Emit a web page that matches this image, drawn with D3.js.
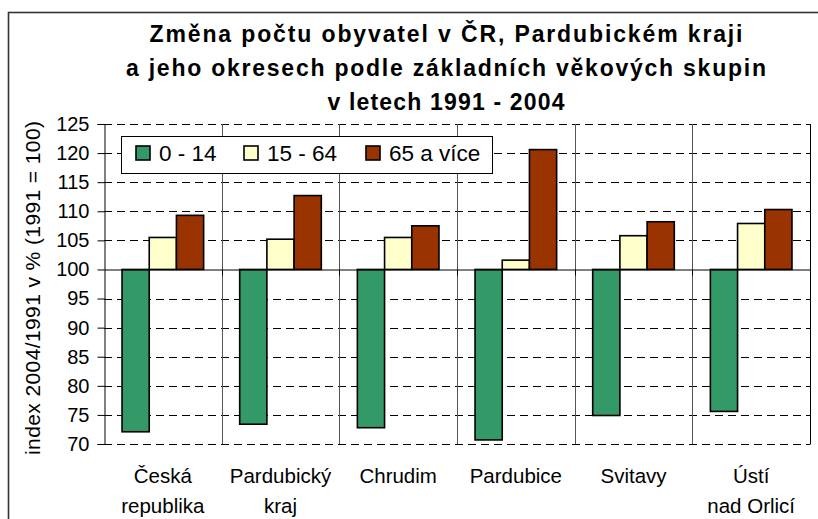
<!DOCTYPE html>
<html>
<head>
<meta charset="utf-8">
<script src="https://cdn.jsdelivr.net/npm/d3@7"></script>
<style>
  html, body { margin: 0; padding: 0; background: #fff; }
  svg { display: block; font-family: "Liberation Sans", Arial, sans-serif; }
</style>
</head>
<body>
<svg id="chart" width="818" height="519"></svg>
<script>
// ---- data ----
const titleLines = [
  "Změna počtu obyvatel v ČR, Pardubickém kraji",
  "a jeho okresech podle základních věkových skupin",
  "v letech 1991 - 2004"
];
const yAxisTitle = "index 2004/1991 v % (1991 = 100)";
const categories = ["Česká\nrepublika", "Pardubický\nkraj", "Chrudim", "Pardubice", "Svitavy", "Ústí\nnad Orlicí"];
const seriesNames = ["0 - 14", "15 - 64", "65 a více"];
const seriesColors = ["#339966", "#FFFFCC", "#993300"];
const values0_14  = [72.1, 73.4, 72.8, 70.7, 74.9, 75.6];
const values15_64 = [105.5, 105.2, 105.5, 101.6, 105.8, 107.9];
const values65    = [109.3, 112.7, 107.5, 120.6, 108.2, 110.3];
const yTicks = [70, 75, 80, 85, 90, 95, 100, 105, 110, 115, 120, 125];
const baseValue = 100;

const seriesValues = [values0_14, values15_64, values65];

// ---- layout ----
const svg = d3.select("#chart");
const W = 818, H = 519;
const plot = { left: 104, right: 810, top: 124, bottom: 444 };

// outer border
svg.append("rect")
  .attr("x", 8.5).attr("y", 12.5)
  .attr("width", W + 10).attr("height", H + 10)
  .attr("fill", "#fff").attr("stroke", "#333").attr("stroke-width", 1.6);

// title
const titleLengths = [593, 640, 237];
const titleBaselines = [42, 76, 110];
svg.append("g").selectAll("text").data(titleLines).join("text")
  .attr("x", 446).attr("y", (d, i) => titleBaselines[i])
  .attr("text-anchor", "middle")
  .attr("font-weight", "bold").attr("font-size", 23)
  .attr("textLength", (d, i) => titleLengths[i])
  .attr("lengthAdjust", "spacing")
  .attr("fill", "#000")
  .text(d => d);

// scales
const y = d3.scaleLinear().domain([70, 125]).range([plot.bottom, plot.top]);
const x0 = d3.scaleBand().domain(d3.range(categories.length)).range([plot.left, plot.right]).paddingInner(0).paddingOuter(0);
const x1 = d3.scaleBand().domain(d3.range(seriesNames.length)).range([0, x0.bandwidth()]).paddingInner(0).paddingOuter(0.663);

// horizontal dashed gridlines
const g = svg.append("g");
g.selectAll("line.grid").data(yTicks.filter(t => t !== baseValue)).join("line")
  .attr("class", "grid")
  .attr("x1", plot.left).attr("x2", plot.right)
  .attr("y1", d => Math.round(y(d)) + 0.5).attr("y2", d => Math.round(y(d)) + 0.5)
  .attr("stroke", "#000").attr("stroke-width", 1)
  .attr("stroke-dasharray", "8,5");

// vertical category gridlines
g.selectAll("line.vgrid").data(d3.range(1, categories.length)).join("line")
  .attr("class", "vgrid")
  .attr("x1", d => Math.round(x0(d)) + 0.5).attr("x2", d => Math.round(x0(d)) + 0.5)
  .attr("y1", plot.top).attr("y2", plot.bottom)
  .attr("stroke", "#555").attr("stroke-width", 1);

// right border of plot
g.append("line")
  .attr("x1", plot.right + 0.5).attr("x2", plot.right + 0.5)
  .attr("y1", plot.top).attr("y2", plot.bottom + 0.5)
  .attr("stroke", "#000").attr("stroke-width", 1);

// y axis
const yAxis = d3.axisLeft(y).tickValues(yTicks).tickSize(7).tickPadding(8);
const ya = svg.append("g").attr("transform", `translate(${plot.left + 0.5},0)`).call(yAxis);
ya.select(".domain").attr("stroke", "#000");
ya.selectAll(".tick line").attr("stroke", "#000");
ya.selectAll(".tick text")
  .attr("font-family", "Liberation Sans, Arial, sans-serif")
  .attr("font-size", 20).attr("fill", "#000");

// y-axis title
svg.append("text")
  .attr("transform", "translate(40,288) rotate(-90)")
  .attr("text-anchor", "middle")
  .attr("font-size", 21).attr("fill", "#000")
  .attr("textLength", 334).attr("lengthAdjust", "spacing")
  .text(yAxisTitle);

// bars
const bars = svg.append("g");
categories.forEach((c, ci) => {
  seriesValues.forEach((vals, si) => {
    const v = vals[ci];
    const bx = x0(ci) + x1(si);
    bars.append("rect")
      .attr("x", bx).attr("width", x1.bandwidth())
      .attr("y", y(Math.max(v, baseValue)))
      .attr("height", Math.abs(y(v) - y(baseValue)))
      .attr("fill", seriesColors[si])
      .attr("stroke", "#000").attr("stroke-width", 1.6);
  });
});

// category axis at 100
const xAxis = d3.axisBottom(x0).tickValues([]).tickSizeOuter(0);
const xa = svg.append("g").attr("transform", `translate(0,${Math.round(y(baseValue)) + 0.5})`).call(xAxis);
xa.select(".domain").attr("stroke", "#000");
xa.selectAll(".boundary").data(d3.range(1, categories.length)).join("line")
  .attr("class", "boundary")
  .attr("x1", d => Math.round(x0(d)) + 0.5).attr("x2", d => Math.round(x0(d)) + 0.5)
  .attr("y1", 0).attr("y2", 6).attr("stroke", "#000");

// category labels (low position)
const labels = svg.append("g");
categories.forEach((c, ci) => {
  const cx = x0(ci) + x0.bandwidth() / 2;
  c.split("\n").forEach((line, li) => {
    labels.append("text")
      .attr("x", cx).attr("y", 483 + li * 29.5)
      .attr("text-anchor", "middle")
      .attr("font-size", 20.5).attr("fill", "#000")
      .text(line);
  });
});

// legend
const leg = svg.append("g");
leg.append("rect")
  .attr("x", 121.5).attr("y", 136.5).attr("width", 371).attr("height", 37)
  .attr("fill", "#fff").attr("stroke", "#000").attr("stroke-width", 1);
const legX = [136, 244, 366];
seriesNames.forEach((n, i) => {
  leg.append("rect")
    .attr("x", legX[i]).attr("y", 146).attr("width", 14).attr("height", 14)
    .attr("fill", seriesColors[i]).attr("stroke", "#000").attr("stroke-width", 1.6);
  leg.append("text")
    .attr("x", legX[i] + 23).attr("y", 161)
    .attr("font-size", 22.5).attr("fill", "#000")
    .text(n);
});
</script>
</body>
</html>
